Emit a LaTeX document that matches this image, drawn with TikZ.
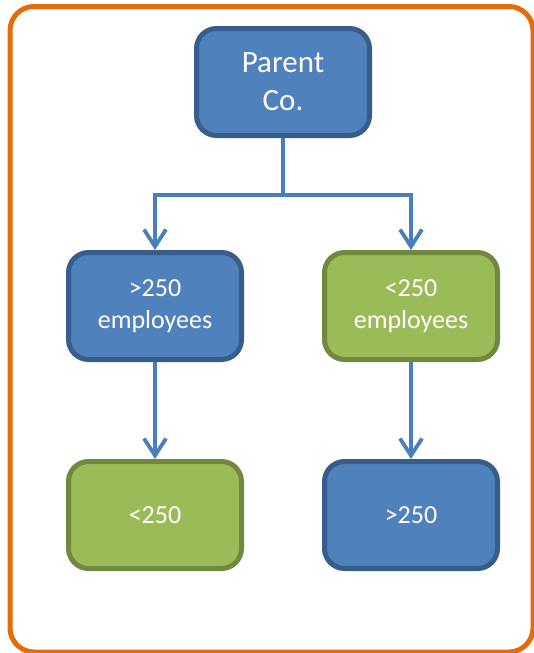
\documentclass[tikz,border=0pt]{standalone}
\usepackage{fontspec}
\setmainfont{Carlito}
\usepackage{xcolor}
\usepackage{tikz}
\usetikzlibrary{matrix}
\usetikzlibrary{arrows.meta}
\definecolor{kastenblau}{HTML}{4F81BD}
\definecolor{randblau}{HTML}{385D8A}
\definecolor{kastengruen}{HTML}{9BBB59}
\definecolor{randgruen}{HTML}{71893F}
\definecolor{linienblau}{HTML}{4A7EBB}
\definecolor{rahmenorange}{HTML}{E46C0A}
\tikzset{
  Kasten/.style={draw, rounded corners=20pt, line width=5pt,
    minimum width=173pt, minimum height=107pt, text=white, align=center,
    font=\fontsize{26}{31.5}\selectfont}, % für alle Kästen
  BKasten/.style={Kasten, fill=kastenblau, draw=randblau},   % blaue Kästen
  GKasten/.style={Kasten, fill=kastengruen, draw=randgruen}, % grüne Kästen
  Pfeil/.style={draw=linienblau, line width=3.8pt, ->},      % für Verbindungen
  Rahmen/.style={draw=rahmenorange, line width=5pt, rounded corners=24pt}
}
\begin{document}
\begin{tikzpicture}[
x=1pt, y=1pt,
>={Straight Barb[length=17pt,width=22pt]} % Voreinstellung für Pfeilspitzen
]
\useasboundingbox (0,0) rectangle (534,-653);
\matrix (S) [
  matrix of nodes, nodes in empty cells,
  inner sep=0pt, outer sep=0pt,
  column sep=128pt, row sep=209pt,
  nodes={minimum width=0pt, minimum height=0pt, inner sep=0pt, outer sep=0pt}
  ] at (283,-298.5)
{
  &&  \\[15pt]
  &&  \\
  &&  \\
};

%Rahmen
\draw[Rahmen] (10,-6.5) rectangle (533,-652);

%Kästen
\node[BKasten, font=\fontsize{31}{38}\selectfont] (Mutter) at (S-1-2) {Parent\\Co.};
\node[BKasten] (gross) at (S-2-1) {>250\\employees};
\node[GKasten] (klein) at (S-2-3) {<250\\employees};
\node[GKasten] (grossKlein) at (S-3-1) {<250};
\node[BKasten] (kleinGross) at (S-3-3) {>250};

%Verbindungen
\draw[Pfeil] (Mutter.south) -- ++(0,-57) -| (gross.north);
\draw[Pfeil] (Mutter.south) -- ++(0,-57) -| (klein.north);
\draw[Pfeil] (gross.south) -- (grossKlein.north);
\draw[Pfeil] (klein.south) -- (kleinGross.north);

\end{tikzpicture}
\end{document}
